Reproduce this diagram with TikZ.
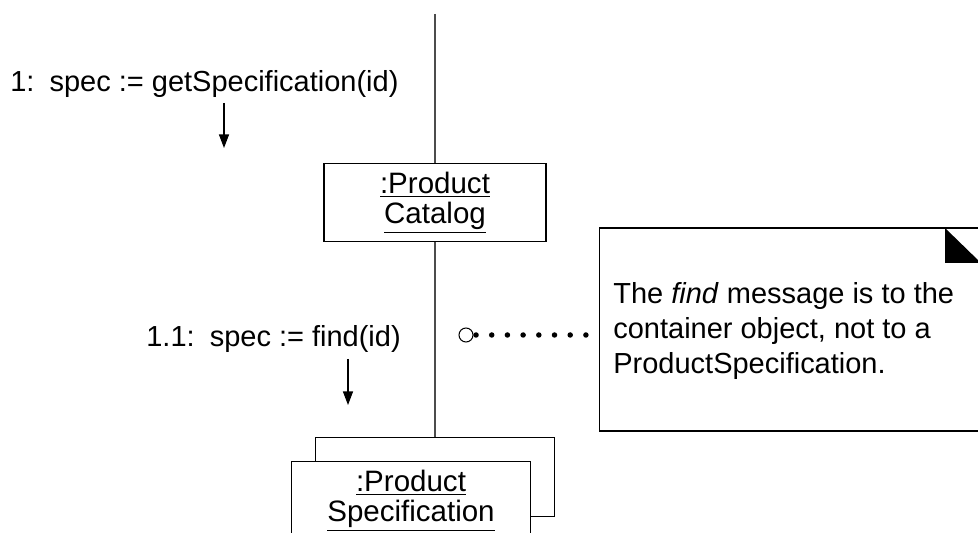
\documentclass[tikz,border=0pt]{standalone}
\usepackage{fontspec}
\setmainfont{Liberation Sans}
\usepackage{tikz}
\usetikzlibrary{arrows.meta, positioning}
\tikzset{
  objbox/.style={rectangle,draw=black,fill=white,align=center,inner sep=0pt,
    minimum height=1.57cm,line width=0.6pt,font=\fontsize{16.8}{17}\selectfont},
  msglabel/.style={anchor=base west,inner sep=0pt,font=\fontsize{16.5}{19}\selectfont},
  msgarrow/.style={-{Triangle[length=0.27cm,width=0.2cm]},line width=0.6pt},
  lifeline/.style={line width=0.8pt,color=black!70},
  notebox/.style={rectangle,draw=black,fill=white,line width=0.6pt,
    minimum width=8.1cm,minimum height=4.06cm,inner sep=0pt},
  notetext/.style={anchor=north west,align=left,inner sep=0pt,
    font=\fontsize{16.5}{19.9}\selectfont},
  dotlink/.style={line width=0.11cm,line cap=round,dash pattern=on 0pt off 0.314cm}
}

\begin{document}
\begin{tikzpicture}[x=0.02cm,y=-0.02cm]
  \clip (0,0) rectangle (978,533);

  % objects
  \node[objbox, minimum width=4.44cm] (catalog) at (435,202.5)
    {\underline{:Product}\\\underline{Catalog}};
  \node[objbox, minimum width=4.78cm] (specback) at (435,477) {};
  \node[objbox, minimum width=4.78cm] (spec) at ([shift={(-24,24)}]specback.center)
    {\underline{:Product}\\\underline{Specification}};
  \coordinate (top) at (435,14);

  % links
  \draw[lifeline] (top) -- (catalog.north);
  \draw[lifeline] (catalog.south) -- (specback.north);

  % messages
  \node[msglabel] (msg1) at (10,92) {1:\hspace{0.15em} spec := getSpecification(id)};
  \coordinate (m1a) at (224,103);
  \coordinate (m1b) at (224,148);
  \draw[msgarrow] (m1a) -- (m1b);

  \node[msglabel] (msg2) at (146,347) {1.1:\hspace{0.15em} spec := find(id)};
  \coordinate (m2a) at (348,359);
  \coordinate (m2b) at (348,405);
  \draw[msgarrow] (m2a) -- (m2b);

  % note
  \node[notebox] (note) at (801.5,329.5) {};
  \fill (945,228) -- (945,263) -- (981,263) -- cycle;
  \node[notetext] (notetxt) at (613,282)
    {The \textit{find} message is to the\\container object, not to a\\ProductSpecification.};
  \node[circle,draw,line width=0.6pt,minimum size=0.28cm,inner sep=0pt] (attach) at (466,335) {};
  \draw[dotlink] ([xshift=0.05cm]attach.east) -- (attach.east -| note.west);
\end{tikzpicture}
\end{document}
